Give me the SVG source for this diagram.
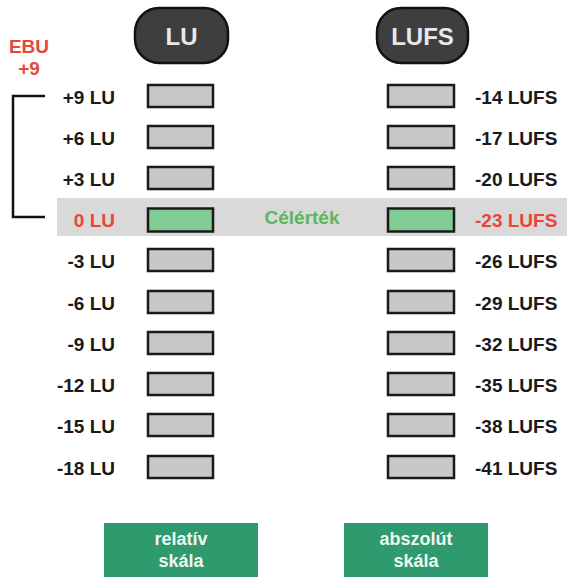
<svg xmlns="http://www.w3.org/2000/svg" width="567" height="577" viewBox="0 0 567 577">
<style>
text{font-family:"Liberation Sans",Arial,sans-serif;font-weight:bold}
.lbl{font-size:19px;fill:#1a1a1a}
.l{text-anchor:end}
.red{fill:#e5483a}
.m{fill:#c8c8c8;stroke:#1a1a1a;stroke-width:2.5}
.g{fill:#7fcd92;stroke:#1a1a1a;stroke-width:2.5}
.pill{fill:#3e3e40;stroke:#111;stroke-width:2.5}
.pt{font-size:24px;fill:#e8e8e8;text-anchor:middle}
.box{fill:#2f9a6d}
.bt{font-size:18px;fill:#eef7f1;text-anchor:middle}
</style>
<rect x="57" y="198" width="510" height="38" fill="#d9d9d9"/>
<g id="connectors">
<path d="M45,96 H13 V217 H45" fill="none" stroke="#111" stroke-width="2.5"/>
</g>
<g id="ebu"><text class="lbl red" x="29" y="53" font-size="18" text-anchor="middle">EBU</text><text class="lbl red" x="29" y="75" text-anchor="middle">+9</text></g>
<g id="lu-head"><rect class="pill" x="135" y="8" width="93" height="55" rx="24"/><text class="pt" x="181.5" y="45">LU</text></g>
<g id="lufs-head"><rect class="pill" x="377" y="8" width="91" height="55" rx="24"/><text class="pt" x="422.5" y="45">LUFS</text></g>
<g id="row0"><text class="lbl l" x="115" y="104">+9 LU</text><rect class="m" x="148" y="85" width="65" height="22"/><rect class="m" x="388" y="85" width="66" height="22"/><text class="lbl" x="475" y="104">-14 LUFS</text></g>
<g id="row1"><text class="lbl l" x="115" y="145">+6 LU</text><rect class="m" x="148" y="126" width="65" height="22"/><rect class="m" x="388" y="126" width="66" height="22"/><text class="lbl" x="475" y="145">-17 LUFS</text></g>
<g id="row2"><text class="lbl l" x="115" y="186">+3 LU</text><rect class="m" x="148" y="167" width="65" height="22"/><rect class="m" x="388" y="167" width="66" height="22"/><text class="lbl" x="475" y="186">-20 LUFS</text></g>
<g id="row3"><text class="lbl l red" x="115" y="227">0 LU</text><rect class="g" x="148" y="208.5" width="65" height="23"/><text x="302" y="224" font-size="19" fill="#5bb65e" text-anchor="middle">Célérték</text><rect class="g" x="388" y="208.5" width="66" height="23"/><text class="lbl red" x="475" y="227">-23 LUFS</text></g>
<g id="row4"><text class="lbl l" x="115" y="268">-3 LU</text><rect class="m" x="148" y="249" width="65" height="22"/><rect class="m" x="388" y="249" width="66" height="22"/><text class="lbl" x="475" y="268">-26 LUFS</text></g>
<g id="row5"><text class="lbl l" x="115" y="310">-6 LU</text><rect class="m" x="148" y="291" width="65" height="22"/><rect class="m" x="388" y="291" width="66" height="22"/><text class="lbl" x="475" y="310">-29 LUFS</text></g>
<g id="row6"><text class="lbl l" x="115" y="351">-9 LU</text><rect class="m" x="148" y="332" width="65" height="22"/><rect class="m" x="388" y="332" width="66" height="22"/><text class="lbl" x="475" y="351">-32 LUFS</text></g>
<g id="row7"><text class="lbl l" x="115" y="392">-12 LU</text><rect class="m" x="148" y="373" width="65" height="22"/><rect class="m" x="388" y="373" width="66" height="22"/><text class="lbl" x="475" y="392">-35 LUFS</text></g>
<g id="row8"><text class="lbl l" x="115" y="433">-15 LU</text><rect class="m" x="148" y="414" width="65" height="22"/><rect class="m" x="388" y="414" width="66" height="22"/><text class="lbl" x="475" y="433">-38 LUFS</text></g>
<g id="row9"><text class="lbl l" x="115" y="475">-18 LU</text><rect class="m" x="148" y="456" width="65" height="22"/><rect class="m" x="388" y="456" width="66" height="22"/><text class="lbl" x="475" y="475">-41 LUFS</text></g>
<g id="relativ"><rect class="box" x="104" y="523" width="154" height="54"/><text class="bt" x="181" y="545">relatív</text><text class="bt" x="181" y="567">skála</text></g>
<g id="abszolut"><rect class="box" x="344" y="523" width="144" height="54"/><text class="bt" x="416" y="545">abszolút</text><text class="bt" x="416" y="567">skála</text></g>
</svg>
